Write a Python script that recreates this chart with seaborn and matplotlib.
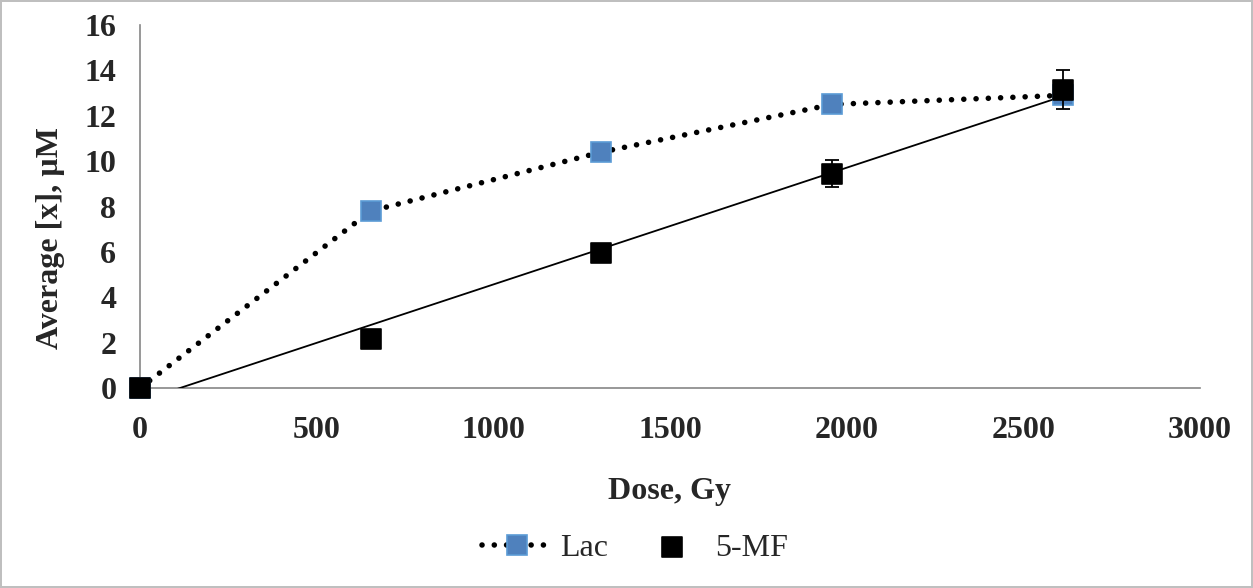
import numpy as np
import pandas as pd
import matplotlib
matplotlib.use("Agg")
import matplotlib.pyplot as plt
import seaborn as sns

# data
dose = [0, 653, 1306, 1959, 2612]
lac = [0, 7.8, 10.4, 12.5, 12.9]
mf = [0, 2.15, 5.95, 9.45, 13.15]
mf_err = [0, 0, 0, 0.6, 0.85]

df = pd.DataFrame({"Dose": dose, "Lac": lac, "5-MF": mf, "err": mf_err})

sns.set_style("white")
plt.rcParams["font.family"] = ["Liberation Serif", "DejaVu Serif"]

fig = plt.figure(figsize=(12.53, 5.88), dpi=100, edgecolor="#BFBFBF", linewidth=1.5)
ax = fig.add_axes([0.1117, 0.340, 0.846, 0.6175])

# linear trendline of 5-MF (drawn first so markers sit on top)
sns.regplot(data=df, x="Dose", y="5-MF", scatter=False, ci=None, ax=ax,
            line_kws={"color": "black", "lw": 1.3, "zorder": 2})

# Lac: dotted line with blue square markers
sns.lineplot(data=df, x="Dose", y="Lac", ax=ax, color="black", lw=4,
             linestyle=(0, (0.01, 2.2)), dash_capstyle="round",
             marker="s", markersize=14, markerfacecolor="#4F81BD",
             markeredgecolor="#5B9BD5", markeredgewidth=1.2, label="Lac",
             zorder=3, clip_on=False, legend=False)

# 5-MF: black squares with error bars
ax.errorbar(df["Dose"], df["5-MF"], yerr=df["err"], fmt="none", ecolor="black",
            elinewidth=1.3, capsize=5, capthick=1.3, zorder=4)
sns.scatterplot(data=df, x="Dose", y="5-MF", ax=ax, marker="s", s=220,
                color="black", edgecolor="black", label="5-MF", zorder=5,
                clip_on=False, legend=False)

ax.set_xlim(0, 3000)
ax.set_ylim(0, 16)
ax.set_xticks(range(0, 3001, 500))
ax.set_yticks(range(0, 17, 2))

for s in ["top", "right"]:
    ax.spines[s].set_visible(False)
for s in ["left", "bottom"]:
    ax.spines[s].set_color("#868686")
    ax.spines[s].set_linewidth(1.2)
ax.spines["bottom"].set_zorder(1)

ax.tick_params(axis="both", direction="out", length=6, width=1.2, color="#868686",
               labelsize=23)
ax.tick_params(axis="x", pad=14)
ax.tick_params(axis="y", pad=11)
for lbl in ax.get_xticklabels() + ax.get_yticklabels():
    lbl.set_fontweight("bold")
ax.set_xlabel("Dose, Gy", fontsize=23, fontweight="bold")
ax.set_ylabel("Average [x], µM", fontsize=23, fontweight="bold")
ax.xaxis.set_label_coords(0.5, -0.245)
ax.yaxis.set_label_coords(-0.071, 0.413)

handles = ax.get_lines()[1:2] + ax.collections[-1:]
fig.legend(handles, ["Lac", "5-MF"], loc="center", bbox_to_anchor=(0.507, 0.068),
           ncol=2, frameon=False, fontsize=23, handlelength=2.2,
           handletextpad=0.25, columnspacing=0.9, borderpad=0)

fig.savefig("out.png", dpi=100)
